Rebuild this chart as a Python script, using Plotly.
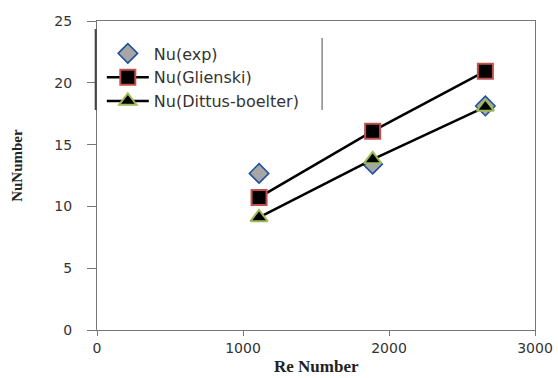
import plotly.graph_objects as go

re_number = [1110, 1888, 2660]
nu_exp = [12.67, 13.42, 18.13]
nu_glinski = [10.73, 16.09, 20.94]
nu_dittus = [9.11, 13.8, 18.05]
x_ticks = [0, 1000, 2000, 3000]
y_ticks = [0, 5, 10, 15, 20, 25]

fig = go.Figure()
fig.add_trace(go.Scatter(
    x=re_number, y=nu_exp, mode="markers", name="Nu(exp)",
    marker=dict(symbol="diamond", size=15, color="#a6a6a6",
                line=dict(color="#1f4e9a", width=1.5)),
))
fig.add_trace(go.Scatter(
    x=re_number, y=nu_glinski, mode="lines+markers", name="Nu(Glienski)",
    line=dict(color="black", width=2.5),
    marker=dict(symbol="square", size=15, color="black",
                line=dict(color="#c0504d", width=2)),
))
fig.add_trace(go.Scatter(
    x=re_number, y=nu_dittus, mode="lines+markers", name="Nu(Dittus-boelter)",
    line=dict(color="black", width=2.5),
    marker=dict(symbol="triangle-up", size=15, color="black",
                line=dict(color="#9bbb59", width=2)),
))

axis_common = dict(
    showgrid=False, zeroline=False, showline=True, linecolor="#777",
    linewidth=1, mirror=True, ticks="outside", tickcolor="#777",
    automargin=False,
    tickfont=dict(family="DejaVu Sans", size=14, color="#333"),
)

fig.update_layout(
    width=558, height=378,
    margin=dict(l=97, r=23, t=21, b=48),
    paper_bgcolor="white", plot_bgcolor="white",
    showlegend=True,
    legend=dict(
        x=0.011, y=0.95, xanchor="left", yanchor="top",
        bgcolor="rgba(0,0,0,0)", borderwidth=0,
        font=dict(family="DejaVu Sans", size=16, color="#333"),
        itemwidth=42,
    ),
    xaxis=dict(range=[0, 3000], tickvals=x_ticks, ticklen=5, **axis_common),
    yaxis=dict(range=[0, 25], tickvals=y_ticks, ticklen=9,
               ticklabelstandoff=12, **axis_common),
    annotations=[
        dict(text="<b>Re Number</b>", xref="paper", yref="paper",
             x=0.5, y=-0.118, xanchor="center", yanchor="middle",
             showarrow=False,
             font=dict(family="Liberation Serif", size=17, color="#222")),
        dict(text="<b>NuNumber</b>", xref="paper", yref="paper",
             x=-0.183, y=0.534, xanchor="center", yanchor="middle",
             textangle=-90, showarrow=False,
             font=dict(family="Liberation Serif", size=15, color="#222")),
    ],
    shapes=[
        dict(type="line", xref="paper", yref="paper", x0=-0.003, x1=-0.003,
             y0=0.712, y1=0.974, line=dict(color="#444", width=2)),
        dict(type="line", xref="paper", yref="paper", x0=0.514, x1=0.514,
             y0=0.712, y1=0.945, line=dict(color="#888", width=1.5)),
    ],
)

fig.write_html("out.html")
